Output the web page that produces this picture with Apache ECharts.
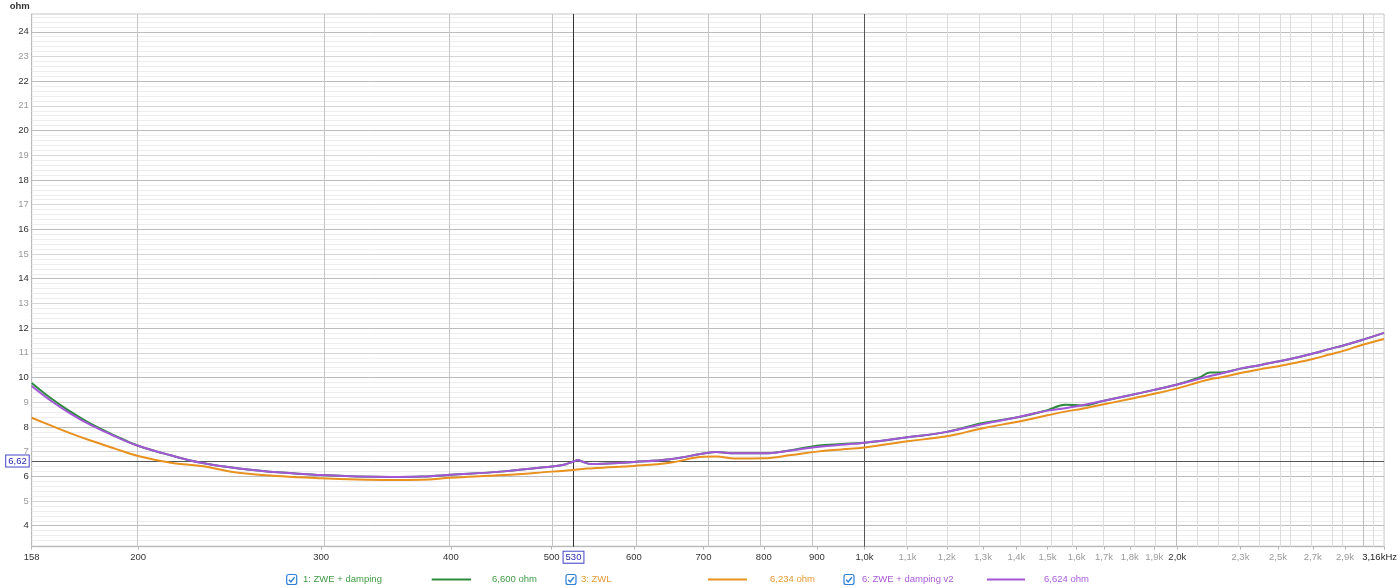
<!DOCTYPE html>
<html>
<head>
<meta charset="utf-8">
<script src="https://cdn.jsdelivr.net/npm/echarts@6/dist/echarts.min.js"></script>
<style>
html,body{margin:0;padding:0;background:#fff;}
#chart{width:1400px;height:588px;}
</style>
</head>
<body>
<div id="chart"></div>
<script>
// ---------------- DATA ----------------
const freqs = [158,165,172,180,190,200,215,230,250,275,300,325,350,375,400,450,500,515,525,530,535,545,560,600,650,700,720,750,800,850,900,950,1000,1100,1200,1300,1400,1500,1560,1620,1700,1800,1900,2000,2100,2150,2200,2300,2400,2500,2600,2700,2800,2900,3000,3162];

// 1: ZWE + damping (green)
const zweDamping = [9.78,9.15,8.63,8.13,7.65,7.24,6.85,6.55,6.32,6.15,6.05,5.99,5.97,5.99,6.06,6.20,6.40,6.48,6.60,6.66,6.60,6.50,6.51,6.58,6.69,6.92,6.98,6.93,6.93,7.06,7.24,7.31,7.36,7.58,7.80,8.16,8.38,8.68,8.90,8.87,9.06,9.28,9.50,9.72,10.00,10.20,10.20,10.36,10.50,10.65,10.80,10.97,11.15,11.32,11.50,11.81];

// 3: ZWL (orange)
const zwl = [8.37,8.05,7.75,7.45,7.12,6.82,6.55,6.42,6.14,6.00,5.92,5.87,5.85,5.86,5.94,6.05,6.19,6.23,6.26,6.28,6.30,6.32,6.35,6.42,6.55,6.79,6.80,6.72,6.73,6.86,7.00,7.09,7.17,7.42,7.62,7.95,8.20,8.47,8.62,8.74,8.92,9.13,9.34,9.56,9.82,9.93,10.00,10.18,10.33,10.46,10.60,10.75,10.93,11.10,11.30,11.56];

// 6: ZWE + damping v2 (purple)
const zweDampingV2 = [9.66,9.05,8.55,8.08,7.62,7.24,6.85,6.55,6.32,6.15,6.05,5.99,5.97,5.99,6.06,6.20,6.40,6.48,6.60,6.66,6.60,6.50,6.51,6.58,6.69,6.92,6.98,6.93,6.93,7.05,7.19,7.28,7.36,7.58,7.80,8.12,8.38,8.66,8.76,8.88,9.06,9.28,9.50,9.72,9.95,10.06,10.15,10.36,10.50,10.65,10.80,10.97,11.15,11.32,11.50,11.81];

const seriesNames = ['1: ZWE + damping','3: ZWL','6: ZWE + damping v2'];
const seriesReadouts = ['6,600 ohm','6,234 ohm','6,624 ohm'];

// x tick labels
const xTickFreqs = [158,200,300,400,500,600,700,800,900,1000,1100,1200,1300,1400,1500,1600,1700,1800,1900,2000,2300,2500,2700,2900,3162];
const xTickLabels = ['158','200','300','400','500','600','700','800','900','1,0k','1,1k','1,2k','1,3k','1,4k','1,5k','1,6k','1,7k','1,8k','1,9k','2,0k','2,3k','2,5k','2,7k','2,9k','3,16kHz'];
const xMajorLabels = ['158','200','300','400','500','600','700','800','900','1,0k','2,0k'];

// y tick labels
const yTickVals = [4,5,6,7,8,9,10,11,12,13,14,15,16,17,18,19,20,21,22,23,24];

// x grid lines
const xGridMid = [200,300,400,500,600,700,800,900];
const xGridDark = [1000];
const xGridLight = [1100,1200,1300,1400,1500,1600,1700,1800,1900,2100,2200,2300,2400,2500,2600,2700,2800,2900,3100];
const xGridMid2 = [2000,3000];

// cursor
const cursorFreq = 530;
const cursorOhm = 6.62;
const cursorFreqLabel = '530';
const cursorOhmLabel = '6,62';

const xMin = 158, xMax = 3162, yMin = 3.15, yMax = 24.72;

// ---------------- CHART ----------------
const FONT = '"Liberation Sans", Arial, sans-serif';
const colGreen = '#2e8b3e', colOrange = '#e8911e', colPurple = '#a257d6';
const lg = Math.log10;

const pts = arr => freqs.map((f,i)=>[lg(f), arr[i]]);

// y grid lines: every 0.2 ohm
const yGrid = [];
for (let k = 16; k <= 123; k++) {
  const v = Math.round(k*0.2*10)/10;
  if (v <= yMin || v >= yMax) continue;
  let color = '#ededed';
  if (Math.abs(v - Math.round(v)) < 1e-6) color = (Math.round(v) % 2 === 0) ? '#bcbcbc' : '#d6d6d6';
  yGrid.push({yAxis: v, lineStyle:{color: color, width:1, type:'solid'}});
}
const xGrid = [];
xGridLight.forEach(f=>xGrid.push({xAxis: lg(f), lineStyle:{color:'#dcdcdc', width:1, type:'solid'}}));
xGridMid.forEach(f=>xGrid.push({xAxis: lg(f), lineStyle:{color:'#c6c6c6', width:1, type:'solid'}}));
xGridMid2.forEach(f=>xGrid.push({xAxis: lg(f), lineStyle:{color:'#bdbdbd', width:1, type:'solid'}}));
xGridDark.forEach(f=>xGrid.push({xAxis: lg(f), lineStyle:{color:'#555', width:1, type:'solid'}}));

const boxLabel = {
  show:true, position:'start', color:'#2a2ab4', fontSize:9.5, fontFamily:FONT,
  backgroundColor:'#fff', borderColor:'#4444c8', borderWidth:1, padding:[1,2,0,2]
};

const chart = echarts.init(document.getElementById('chart'), null, {renderer:'canvas'});

const legendGraphics = [];
const legendPos = [
  {cb:291.7, text:303, l1:431.7, l2:471, val:492, tc:'#3f9a44', lc:colGreen},
  {cb:571, text:581, l1:708, l2:747, val:770, tc:'#e59a35', lc:colOrange},
  {cb:849, text:862, l1:987, l2:1025, val:1044, tc:'#a95ad8', lc:colPurple}
];
const LY = 579.5;
legendPos.forEach((p,i)=>{
  legendGraphics.push({type:'rect', shape:{x:p.cb-5, y:LY-5, width:10, height:10, r:2}, style:{fill:'#fff', stroke:'#2f7fd6', lineWidth:1.2}, silent:true});
  legendGraphics.push({type:'polyline', shape:{points:[[p.cb-2.8,LY+0.2],[p.cb-0.8,LY+2.4],[p.cb+2.9,LY-2.3]]}, style:{fill:null, stroke:'#2f7fd6', lineWidth:1.4}, silent:true});
  legendGraphics.push({type:'text', x:p.text, y:LY, style:{text:seriesNames[i], fill:p.tc, font:'9.5px '+FONT, verticalAlign:'middle', align:'left'}, silent:true});
  legendGraphics.push({type:'line', shape:{x1:p.l1, y1:LY, x2:p.l2, y2:LY}, style:{stroke:p.lc, lineWidth:2}, silent:true});
  legendGraphics.push({type:'text', x:p.val, y:LY, style:{text:seriesReadouts[i], fill:p.tc, font:'9.5px '+FONT, verticalAlign:'middle', align:'left'}, silent:true});
});

const option = {
  animation:false,
  backgroundColor:'#fff',
  grid:{left:31.7, right:15, top:14, bottom:41.3, show:true, borderColor:'#c4c4c4', borderWidth:1, backgroundColor:'#fff'},
  xAxis:{
    type:'value', min:lg(xMin), max:lg(xMax),
    axisLine:{show:true, onZero:false, lineStyle:{color:'#b8b8b8'}},
    splitLine:{show:false},
    axisTick:{show:true, customValues: xTickFreqs.map(lg), length:3, lineStyle:{color:'#b8b8b8'}},
    axisLabel:{
      show:true, customValues: xTickFreqs.map(lg), margin:6, hideOverlap:false,
      showMinLabel:true, showMaxLabel:true,
      formatter:function(v){
        let idx = -1;
        for (let i=0;i<xTickFreqs.length;i++){ if (Math.abs(lg(xTickFreqs[i])-v) < 1e-6) { idx=i; break; } }
        if (idx < 0) return '';
        const t = xTickLabels[idx];
        if (idx === xTickLabels.length-1) return '{last|'+t+'}';
        return (xMajorLabels.indexOf(t) >= 0 ? '{d|' : '{l|') + t + '}';
      },
      rich:{
        d:{color:'#333', fontSize:9.5, fontFamily:FONT},
        l:{color:'#9a9a9a', fontSize:9.5, fontFamily:FONT},
        last:{color:'#222', fontSize:9.5, fontFamily:FONT, padding:[0,9,0,0]}
      }
    }
  },
  yAxis:{
    type:'value', min:yMin, max:yMax,
    name:'ohm', nameLocation:'end', nameGap:3,
    nameTextStyle:{color:'#333', fontSize:9.5, fontWeight:'bold', fontFamily:FONT, align:'right', verticalAlign:'bottom', padding:[0,2,0,0]},
    axisLine:{show:true, lineStyle:{color:'#b8b8b8'}},
    splitLine:{show:false},
    axisTick:{show:false},
    axisLabel:{
      show:true, customValues:yTickVals, margin:3, hideOverlap:false,
      formatter:function(v){
        const r = Math.round(v);
        return (r % 2 === 0 ? '{d|' : '{l|') + r + '}';
      },
      rich:{
        d:{color:'#333', fontSize:9.5, fontFamily:FONT},
        l:{color:'#9a9a9a', fontSize:9.5, fontFamily:FONT}
      }
    }
  },
  series:[
    {type:'line', name:'grid', data:[], silent:true, z:1,
      markLine:{z:1, silent:true, symbol:['none','none'], label:{show:false}, emphasis:{disabled:true}, animation:false,
        data: yGrid.concat(xGrid)}},
    {type:'line', name:'cursor', data:[], silent:true, z:2,
      markLine:{z:2, silent:true, symbol:['none','none'], emphasis:{disabled:true}, animation:false,
        data:[
          {xAxis: lg(cursorFreq), lineStyle:{color:'#333', width:1, type:'solid'},
            label:Object.assign({}, boxLabel, {formatter:cursorFreqLabel, distance:5})},
          {yAxis: cursorOhm, lineStyle:{color:'#555', width:1, type:'solid'},
            label:Object.assign({}, boxLabel, {formatter:cursorOhmLabel, distance:3})}
        ]}},
    {type:'line', name:seriesNames[1], data:pts(zwl), showSymbol:false, smooth:0.4, z:3,
      lineStyle:{color:colOrange, width:2}, itemStyle:{color:colOrange}},
    {type:'line', name:seriesNames[0], data:pts(zweDamping), showSymbol:false, smooth:0.4, z:4,
      lineStyle:{color:colGreen, width:2}, itemStyle:{color:colGreen}},
    {type:'line', name:seriesNames[2], data:pts(zweDampingV2), showSymbol:false, smooth:0.4, z:5,
      lineStyle:{color:colPurple, width:2}, itemStyle:{color:colPurple}}
  ],
  graphic: legendGraphics
};
chart.setOption(option);
</script>
</body>
</html>
